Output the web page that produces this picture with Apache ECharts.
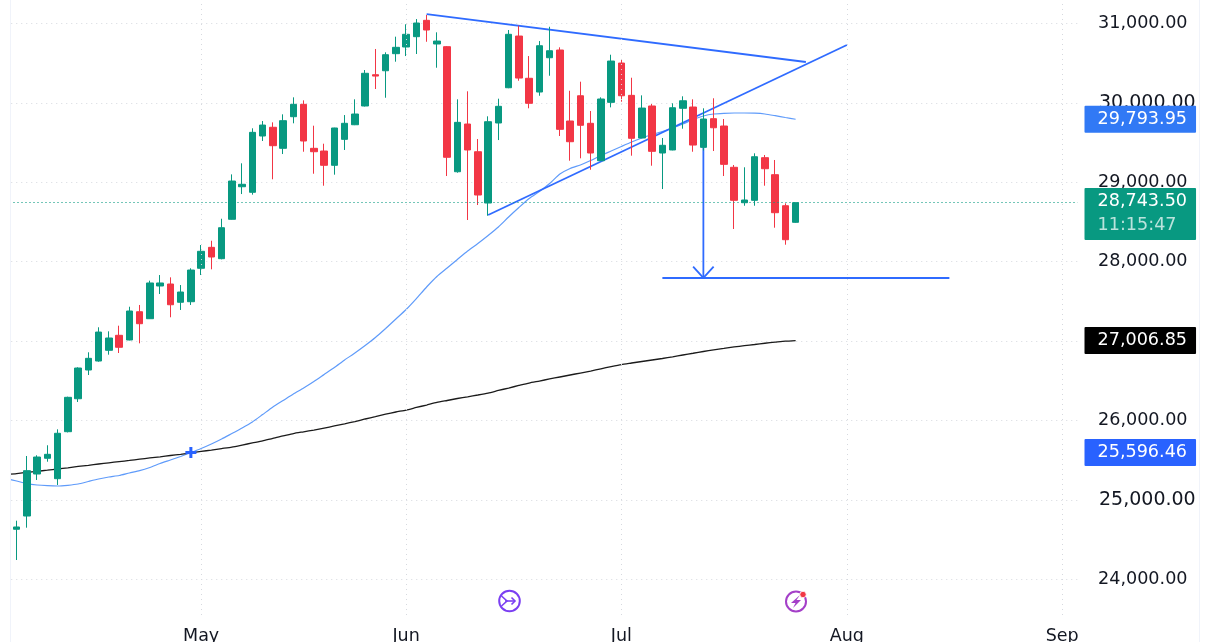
<!DOCTYPE html>
<html>
<head>
<meta charset="utf-8">
<title>Index daily candles</title>
<style>
  html, body { margin: 0; padding: 0; background: #fff; }
  #chart { width: 1210px; height: 642px; }
</style>
<script src="https://cdn.jsdelivr.net/npm/echarts@6/dist/echarts.min.js"></script>
</head>
<body>
<div id="chart"></div>
<script>
// Daily sessions, oldest first
const opens = [24630,24797,25326,25524,25267,25859,26274,26636,26749,26884,27073,27014,27370,27282,27694,27719,27489,27496,
  27917,28181,28038,28534,28944,28874,29583,29693,29428,29826,29982,29428,29394,29214,29541,29725,29961,30355,30405,30620,30704,
  30834,31040,30742,30708,29133,29734,29385,28739,29747,30191,30842,30310,30137,30569,30666,29772,30090,29743,29272,
  30007,30502,30095,29558,29961,29369,29407,29932,29948,29440,29801,29709,29189,28743,28773,29310,29096,28705,28496];
const closes = [24659,25368,25540,25574,25839,26292,26661,26783,27114,27039,26922,27379,27219,27732,27732,27458,27618,27895,
  28131,28059,28428,29016,28975,29629,29721,29461,29776,29982,29520,29385,29214,29684,29743,29860,30373,30338,30607,30700,30864,
  31006,30918,30779,29315,29755,29407,28840,29763,29957,30864,30313,29995,30720,30657,29667,29511,29718,29369,30049,
  30527,30090,29554,29935,29390,29466,29939,30027,29469,29797,29687,29226,28773,28777,29322,29171,28617,28277,28743.5];
const lows = [24243,24650,25251,25481,25188,25850,26233,26573,26740,26829,26850,27010,26972,27280,27593,27300,27392,27455,
  27832,27904,28030,28530,28852,28844,29520,29038,29356,29743,29385,29108,28957,29096,29407,29720,29955,30175,30065,30519,30590,
  30616,30770,30443,29079,29121,28525,28714,28579,29532,30185,30279,29932,30090,30342,29583,29272,29302,29158,29268,
  29944,30015,29335,29555,29209,28915,29403,29675,29385,29400,29394,29079,28412,28705,28705,28957,28428,28214,28490];
const highs = [24738,25553,25562,25688,25889,26300,26670,26859,27174,27123,27194,27433,27455,27761,27832,27803,27706,27917,
  28210,28264,28541,29100,29239,29680,29772,29755,29856,30070,30032,29713,29486,29687,29847,30045,30414,30679,30637,30834,30990,
  31056,31107,30889,30716,30045,30146,29545,29831,30053,30918,30972,30590,30779,30959,30700,30153,30267,29898,30070,
  30607,30553,30317,30095,29986,29558,29995,30083,30045,29932,30058,29797,29218,29189,29365,29344,29281,28735,28743.5];

// Moving averages, one reading per slot starting one slot before the first session
const ma50 = [25269,25238,25206,25188,25179,25175,25184,25200,25232,25263,25288,25307,25339,25368,25408,25458,25502,25547,25596,
  25647,25704,25767,25836,25905,25981,26075,26170,26252,26334,26409,26491,26579,26667,26762,26850,26944,27045,27159,27278,27398,
  27536,27681,27813,27920,28028,28135,28229,28330,28437,28563,28682,28796,28884,28985,29104,29174,29218,29274,29337,29394,
  29451,29507,29558,29602,29640,29684,29734,29791,29835,29860,29869,29873,29873,29870,29860,29839,29816,29793.95];
const ma200 = [25322,25332,25348,25360,25374,25389,25404,25421,25436,25452,25467,25482,25497,25513,25528,25543,25559,25574,25591,
  25610,25628,25647,25666,25691,25717,25742,25776,25805,25836,25858,25880,25905,25931,25958,25987,26019,26048,26079,26107,26132,
  26164,26195,26227,26252,26277,26298,26321,26346,26378,26409,26441,26472,26497,26523,26548,26573,26598,26623,26651,26679,
  26705,26724,26743,26762,26781,26802,26825,26847,26869,26890,26908,26926,26942,26957,26973,26986,26999,27006.85];

// Axis ticks and the slot each month label sits on
const priceTicks = [24000,25000,26000,27000,28000,29000,30000,31000];
const priceTickLabels = ['24,000.00','25,000.00','26,000.00','','28,000.00','29,000.00','30,000.00','31,000.00'];
const strongTicks = [25000,30000];
const monthNames = ['May','Jun','Jul','Aug','Sep'];
const monthSlots = [19,39,60,82,103];
const slotCount = 105;

// Drawn analysis: [slot, price] polylines
const fallingLine = [[41,31119],[78,30515]];
const risingLine = [[47,28588],[82,30729]];
const targetLevel = [[64,27795],[92,27795]];
const dropArrow = [[68,29440],[68,27795]];
const arrowHead = [[67,27937],[68,27795],[69,27937]];
const crossPoint = [[18,25596.46]];

// Latest readings shown as tags on the price scale
const lastPrice = 28743.5;
const countdown = '11:15:47';
const tagMa50 = 29793.95;
const tagMa200 = 27006.85;
const tagCross = 25596.46;

const UP = '#089981', DOWN = '#F23645', TREND = '#2F6BFF', GRID = '#D6D9DF';
const FONT = '"DejaVu Sans"';
const fmt = v => v.toLocaleString('en-US', { minimumFractionDigits: 2, maximumFractionDigits: 2 });

const categories = Array.from({ length: slotCount }, (_, i) => {
  const m = monthSlots.indexOf(i);
  return m >= 0 ? monthNames[m] : 'slot' + i;
});
const candles = opens.map((o, i) => [i + 1, o, closes[i], lows[i], highs[i]]);

const drawing = (name, data) => ({
  name, type: 'line', data, z: 2, symbol: 'none', silent: true, animation: false,
  lineStyle: { color: TREND, width: 1.8 }
});

// A price tag on the right of the plot, carried by an invisible level line
const tagLine = (value, color) => ({
  silent: true, symbol: 'none', animation: false,
  lineStyle: { color: 'transparent', width: 0 },
  data: [{ yAxis: value }],
  label: {
    show: true, position: 'end', distance: 7, color: '#fff',
    fontFamily: FONT, fontSize: 17.6, backgroundColor: color,
    padding: [5, 9, 4, 13], borderRadius: 1, formatter: fmt(value)
  }
});

const chart = echarts.init(document.getElementById('chart'), null, { renderer: 'canvas' });
chart.setOption({
  animation: false,
  backgroundColor: '#fff',
  // The plot runs past the window top and bottom so the price scale lands on whole thousands
  grid: { left: 1.25, width: 1076.25, top: -55.9, height: 714.6, outerBoundsMode: 'none' },
  xAxis: {
    type: 'category', data: categories, boundaryGap: true,
    axisLine: { show: false }, axisTick: { show: false }, splitLine: { show: false },
    axisLabel: {
      inside: true, margin: 13, color: '#131722', fontFamily: FONT, fontSize: 17.5,
      interval: i => monthSlots.includes(i),
      hideOverlap: false
    }
  },
  yAxis: {
    type: 'value', position: 'right', min: 23000, max: 32000, interval: 1000,
    axisLine: { show: false }, axisTick: { show: false },
    splitLine: { lineStyle: { color: GRID, type: [1, 4], width: 1 } },
    axisLabel: {
      align: 'left', margin: 20.5,
      formatter: v => {
        const k = priceTicks.indexOf(v);
        if (k < 0 || !priceTickLabels[k]) return '';
        return (strongTicks.includes(v) ? '{s|' : '{n|') + priceTickLabels[k] + '}';
      },
      rich: {
        n: { color: '#131722', fontFamily: FONT, fontSize: 17.6 },
        s: { color: '#131722', fontFamily: FONT, fontSize: 19, padding: [0, 0, 0, 1] }
      }
    }
  },
  series: [
    {
      name: 'Month grid', type: 'line', data: [], z: 1, silent: true,
      markLine: {
        silent: true, symbol: 'none', animation: false, label: { show: false },
        lineStyle: { color: GRID, type: [1, 4], width: 1 },
        data: monthSlots.map(s => [{ xAxis: s, yAxis: 23550 }, { xAxis: s, yAxis: 31296 }])
      }
    },
    {
      name: 'MA 50', type: 'line', data: ma50.map((v, i) => [i, v]), z: 2, symbol: 'none', smooth: 0.2,
      silent: true, animation: false, lineStyle: { color: '#5F9BFA', width: 1.2 },
      markLine: tagLine(tagMa50, '#3179F5')
    },
    {
      name: 'MA 200', type: 'line', data: ma200.map((v, i) => [i, v]), z: 2, symbol: 'none', smooth: 0.2,
      silent: true, animation: false, lineStyle: { color: '#1B1B1B', width: 1.3 },
      markLine: tagLine(tagMa200, '#000000')
    },
    drawing('Falling line', fallingLine),
    drawing('Rising line', risingLine),
    drawing('Target level', targetLevel),
    drawing('Drop arrow', dropArrow),
    drawing('Arrow head', arrowHead),
    {
      name: 'Cross', type: 'scatter', data: crossPoint, z: 4, silent: true, animation: false,
      symbol: 'path://M4 0H7V4H11V7H7V11H4V7H0V4H4Z', symbolSize: 11,
      itemStyle: { color: '#2962FF', opacity: 1 },
      markLine: tagLine(tagCross, '#2962FF')
    },
    {
      name: 'Price', type: 'candlestick', data: candles, z: 3, silent: true, animation: false,
      encode: { x: 0, y: [1, 2, 3, 4] },
      barWidth: 7,
      itemStyle: { color: UP, color0: DOWN, borderColor: UP, borderColor0: DOWN, borderWidth: 1 },
      markLine: {
        silent: true, symbol: 'none', animation: false,
        lineStyle: { color: UP, type: [1.5, 2.5], width: 1, opacity: 0.75 },
        data: [{ yAxis: lastPrice }],
        label: {
          show: true, position: 'end', distance: 7, offset: [0, 11.3], opacity: 1,
          backgroundColor: UP, padding: [2, 9, 3.3, 13], borderRadius: 1,
          formatter: '{a|' + fmt(lastPrice) + '}\n{b|' + countdown + '}',
          rich: {
            a: { color: '#fff', fontFamily: FONT, fontSize: 17.6, lineHeight: 23.3 },
            b: { color: 'rgba(255,255,255,0.72)', fontFamily: FONT, fontSize: 17.6, lineHeight: 23.3 }
          }
        }
      }
    }
  ],
  graphic: {
    elements: [
      // Plot and scale borders, with a clean margin left of the plot
      { type: 'rect', silent: true, z: 100, shape: { x: 0, y: 0, width: 10, height: 642 }, style: { fill: '#fff' } },
      { type: 'line', silent: true, z: 100, shape: { x1: 10.5, y1: 0, x2: 10.5, y2: 642 }, style: { stroke: '#F0F3FA', lineWidth: 1 } },
      { type: 'line', silent: true, z: 100, shape: { x1: 1199.5, y1: 0, x2: 1199.5, y2: 642 }, style: { stroke: '#F0F3FA', lineWidth: 1 } },
      // Ideas marker
      { type: 'circle', silent: true, z: 100, shape: { cx: 509.5, cy: 601, r: 10.3 }, style: { fill: '#fff', stroke: '#7B3FF2', lineWidth: 2 } },
      { type: 'polyline', silent: true, z: 101, shape: { points: [[501.5, 596], [507, 601], [501.5, 606]] }, style: { fill: 'none', stroke: '#7B3FF2', lineWidth: 1.6 } },
      { type: 'polyline', silent: true, z: 101, shape: { points: [[505, 601], [515, 601]] }, style: { fill: 'none', stroke: '#7B3FF2', lineWidth: 1.6 } },
      { type: 'polyline', silent: true, z: 101, shape: { points: [[511.5, 597.5], [515, 601], [511.5, 604.5]] }, style: { fill: 'none', stroke: '#7B3FF2', lineWidth: 1.6 } },
      // Event marker with its unread dot
      { type: 'circle', silent: true, z: 100, shape: { cx: 796, cy: 601.5, r: 10 }, style: { fill: '#fff', stroke: '#A43FC8', lineWidth: 2 } },
      { type: 'polygon', silent: true, z: 101, shape: { points: [[800, 595], [791, 603], [795.5, 603], [793, 608], [801, 600], [796.5, 600]] }, style: { fill: '#A43FC8' } },
      { type: 'circle', silent: true, z: 102, shape: { cx: 803, cy: 594.5, r: 3.2 }, style: { fill: '#F23645', stroke: '#fff', lineWidth: 0.8 } }
    ]
  }
});
</script>
</body>
</html>
